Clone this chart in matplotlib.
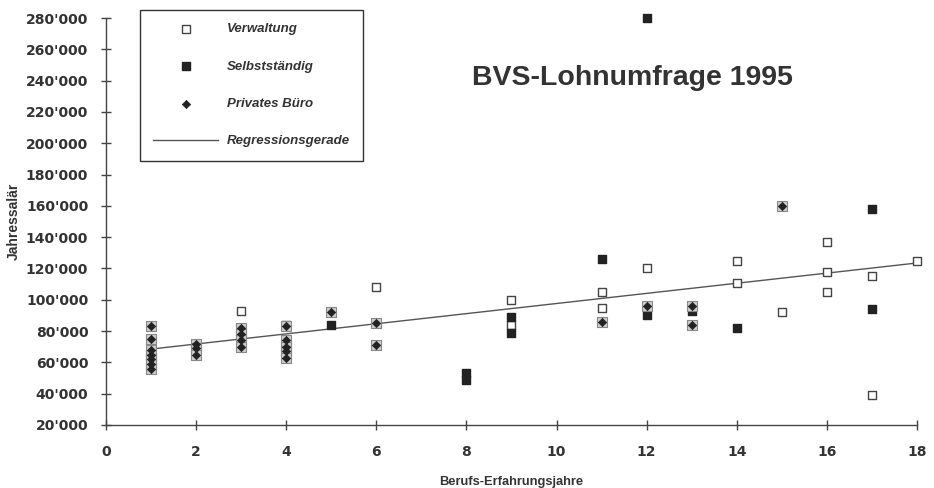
import matplotlib
matplotlib.use("Agg")
import matplotlib.pyplot as plt
from matplotlib.ticker import FuncFormatter

# Verwaltung (hollow squares)
verw_x = [3, 4, 6, 9, 9, 11, 11, 12, 14, 14, 15, 16, 16, 16, 17, 17, 18]
verw_y = [93000, 84000, 108000, 100000, 84000, 105000, 95000, 120000,
          125000, 111000, 92000, 137000, 118000, 105000, 115000, 39000, 125000]

# Selbstständig (filled squares)
selb_x = [5, 8, 8, 9, 9, 11, 12, 12, 13, 13, 14, 17, 17]
selb_y = [84000, 53000, 49000, 89000, 79000, 126000, 280000, 90000,
          96000, 93000, 82000, 158000, 94000]

# Privates Büro (diamonds)
priv_x = [1, 1, 1, 1, 1, 1, 1, 2, 2, 2, 3, 3, 3, 3, 4, 4, 4, 4, 4,
          5, 6, 6, 11, 12, 13, 13, 15]
priv_y = [83000, 75000, 68000, 65000, 62000, 59000, 56000,
          72000, 69000, 65000,
          82000, 78000, 74000, 70000,
          83000, 74000, 70000, 67000, 63000,
          92000, 85000, 71000, 86000, 96000, 96000, 84000, 160000]

# Regressionsgerade (end points)
reg_x = [1, 18]
reg_y = [68500, 123500]

x_ticks = list(range(0, 19, 2))
y_ticks = list(range(20000, 280001, 20000))

fig = plt.figure(figsize=(9.34, 4.88), dpi=100)
ax = fig.add_axes([106 / 934, 1 - 425 / 488, (917 - 106) / 934, (425 - 18) / 488])

ink = "#333333"

ax.plot(reg_x, reg_y, color="#555555", lw=1.0, zorder=2, label="Regressionsgerade")
h_verw = ax.scatter(verw_x, verw_y, marker="s", s=40, facecolor="white",
                    edgecolor="#444444", linewidths=1.0, zorder=3, clip_on=False,
                    label="Verwaltung")
h_selb = ax.scatter(selb_x, selb_y, marker="s", s=40, facecolor="#222222",
                    edgecolor="#222222", linewidths=1.0, zorder=4, clip_on=False,
                    label="Selbstständig")
ax.scatter(priv_x, priv_y, marker="s", s=42, facecolor="#cfcfcf",
           edgecolor="#888888", linewidths=0.8, zorder=5, clip_on=False)
h_priv = ax.scatter(priv_x, priv_y, marker="D", s=18, facecolor="#222222",
                    edgecolor="#222222", linewidths=0.5, zorder=6, clip_on=False,
                    label="Privates Büro")

ax.set_xlim(0, 18)
ax.set_ylim(20000, 280000)
ax.set_xticks(x_ticks)
ax.set_yticks(y_ticks)
ax.yaxis.set_major_formatter(FuncFormatter(lambda v, p: f"{int(v):,}".replace(",", "'")))

for side in ["top", "right"]:
    ax.spines[side].set_visible(False)
for side in ["left", "bottom"]:
    ax.spines[side].set_color("#444444")
    ax.spines[side].set_linewidth(1.0)

ax.tick_params(axis="both", direction="inout", length=7.5, width=1.0,
               color="#444444", labelcolor=ink)
ax.tick_params(axis="y", pad=9)
ax.tick_params(axis="x", pad=11)
for lab in ax.get_xticklabels() + ax.get_yticklabels():
    lab.set_fontfamily("DejaVu Sans")
    lab.set_fontweight("bold")
    lab.set_fontsize(10)

ax.set_xlabel("Berufs-Erfahrungsjahre", fontfamily="Liberation Sans",
              fontweight="bold", fontsize=9.3, color=ink, labelpad=12)
ax.set_ylabel("Jahressalär", fontfamily="Liberation Sans",
              fontweight="bold", fontsize=10, color=ink, labelpad=4)

fig.text(632 / 934, 1 - 78 / 488, "BVS-Lohnumfrage 1995",
         fontfamily=["Liberation Sans Narrow", "Liberation Sans"],
         fontweight="bold", fontsize=20.5, color=ink, ha="center", va="center")

leg = ax.legend(handles=[h_verw, h_selb, h_priv, ax.lines[0]],
                loc="upper left", bbox_to_anchor=(140 / 934, 1 - 10 / 488),
                bbox_transform=fig.transFigure, borderaxespad=0,
                prop={"family": "Liberation Sans", "weight": "bold",
                      "style": "italic", "size": 9.5},
                frameon=True, fancybox=False, framealpha=1, edgecolor="#333333",
                handlelength=4.9, handletextpad=0.7, labelspacing=1.9,
                borderpad=1.0, scatterpoints=1)
leg.get_frame().set_linewidth(1.0)
for t in leg.get_texts():
    t.set_color(ink)

fig.savefig("out.png", dpi=100, facecolor="white")
